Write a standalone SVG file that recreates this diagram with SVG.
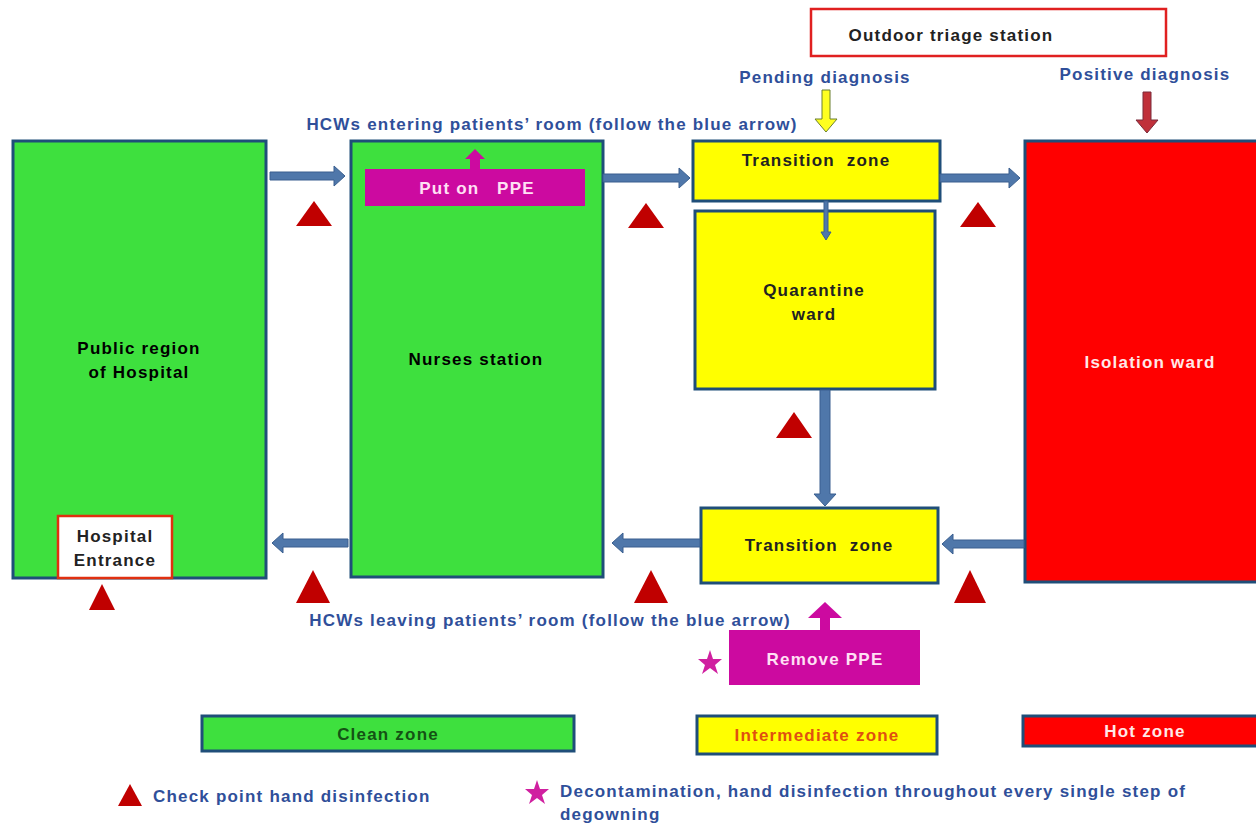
<svg xmlns="http://www.w3.org/2000/svg" width="1256" height="824" viewBox="0 0 1256 824">
<style>
.t{font-family:"Liberation Sans",Arial,sans-serif;font-weight:bold;font-size:17px;letter-spacing:1.2px;text-anchor:middle;white-space:pre}
.blue{fill:#2f4f9a}
.green{fill:#3ee03e;stroke:#1f4e79;stroke-width:3}
.yel{fill:#ffff00;stroke:#1f4e79;stroke-width:3}
.red{fill:#ff0000;stroke:#1f4e79;stroke-width:3}
.arr{fill:#4f77aa;stroke:#3a5f8f;stroke-width:1}
.tri{fill:#c00000}
.mag{fill:#cc0aa0}
</style>
<rect width="1256" height="824" fill="#ffffff"/>
<g id="public-region">
<rect class="green" x="13" y="141" width="253" height="437"/>
<text class="t" x="139" y="354">Public region</text>
<text class="t" x="139" y="378">of Hospital</text>
</g>
<g id="hospital-entrance">
<rect x="58" y="516" width="114" height="62" fill="#ffffff" stroke="#e03010" stroke-width="2.5"/>
<text class="t" x="115" y="542" fill="#222">Hospital</text>
<text class="t" x="115" y="566" fill="#222">Entrance</text>
</g>
<g id="nurses-station">
<rect class="green" x="351" y="141" width="252" height="436"/>
<text class="t" x="476" y="365">Nurses station</text>
</g>
<g id="put-on-ppe">
<polygon class="mag" points="470,169 470,159 465,159 475,149 485,159 480,159 480,169"/>
<rect class="mag" x="365" y="169" width="220" height="37"/>
<text class="t" x="477" y="194" fill="#ffe0f4">Put on   PPE</text>
</g>
<g id="transition-top">
<rect class="yel" x="693" y="141" width="247" height="60"/>
<text class="t" x="816" y="166" fill="#222">Transition  zone</text>
</g>
<g id="quarantine">
<rect class="yel" x="695" y="211" width="240" height="178"/>
<text class="t" x="814" y="296" fill="#222">Quarantine</text>
<text class="t" x="814" y="320" fill="#222">ward</text>
</g>
<g id="transition-bottom">
<rect class="yel" x="701" y="508" width="237" height="75"/>
<text class="t" x="819" y="551" fill="#222">Transition  zone</text>
</g>
<g id="isolation-ward">
<rect class="red" x="1025" y="141" width="240" height="441"/>
<text class="t" x="1150" y="368" fill="#ffe8e8">Isolation ward</text>
</g>
<g id="outdoor-triage">
<rect x="811" y="9" width="355" height="47" fill="#ffffff" stroke="#e02020" stroke-width="2.5"/>
<text class="t" x="951" y="41" fill="#222">Outdoor triage station</text>
</g>
<g id="remove-ppe">
<polygon class="mag" points="820,630 820,618 808,618 825,602 842,618 830,618 830,630"/>
<rect class="mag" x="729" y="630" width="191" height="55"/>
<text class="t" x="825" y="665" fill="#ffe0f4">Remove PPE</text>
</g>
<g id="connectors">
<polygon class="arr" points="270,172 334,172 334,166 345,176 334,186 334,180 270,180"/>
<polygon class="arr" points="603,174 679,174 679,168 690,178 679,188 679,182 603,182"/>
<polygon class="arr" points="940,174 1009,174 1009,168 1020,178 1009,188 1009,182 940,182"/>
<polygon class="arr" points="824,201 828,201 828,232 831,232 826,240 821,232 824,232"/>
<polygon class="arr" points="820,390 830,390 830,494 836,494 825,506 814,494 820,494"/>
<polygon class="arr" points="1024,540 953,540 953,534 942,544 953,554 953,548 1024,548"/>
<polygon class="arr" points="700,539 623,539 623,533 612,543 623,553 623,547 700,547"/>
<polygon class="arr" points="348,539 283,539 283,533 272,543 283,553 283,547 348,547"/>
<polygon points="822,90 830,90 830,119 837,119 826,132 815,119 822,119" fill="#ffff20" stroke="#6b7f30" stroke-width="1"/>
<polygon points="1143,92 1151,92 1151,120 1158,120 1147,133 1136,120 1143,120" fill="#c0303a" stroke="#7a2a3a" stroke-width="1"/>
</g>
<g id="checkpoints">
<polygon class="tri" points="314,201 296,226 332,226"/>
<polygon class="tri" points="646,203 628,228 664,228"/>
<polygon class="tri" points="978,202 960,227 996,227"/>
<polygon class="tri" points="794,412 776,438 812,438"/>
<polygon class="tri" points="313,570 296,603 330,603"/>
<polygon class="tri" points="651,570 634,603 668,603"/>
<polygon class="tri" points="970,570 954,603 986,603"/>
<polygon class="tri" points="102,584 89,610 115,610"/>
</g>
<g id="labels">
<text class="t blue" x="552" y="130">HCWs entering patients’ room (follow the blue arrow)</text>
<text class="t blue" x="550" y="626">HCWs leaving patients’ room (follow the blue arrow)</text>
<text class="t blue" x="825" y="83">Pending diagnosis</text>
<text class="t blue" x="1145" y="80">Positive diagnosis</text>
</g>
<polygon fill="#d020a0" points="710,650 713,659 722,659 715,665 718,674 710,668 702,674 705,665 698,659 707,659"/>
<g id="legend">
<rect class="green" x="202" y="716" width="372" height="35"/>
<text class="t" x="388" y="740" fill="#145214">Clean zone</text>
<rect class="yel" x="697" y="716" width="240" height="38"/>
<text class="t" x="817" y="741" fill="#e05010">Intermediate zone</text>
<rect class="red" x="1023" y="716" width="240" height="30"/>
<text class="t" x="1145" y="737" fill="#ffe8e8">Hot zone</text>
<polygon class="tri" points="130,784 118,806 142,806"/>
<text class="t blue" x="153" y="802" style="text-anchor:start">Check point hand disinfection</text>
<polygon fill="#d020a0" points="537,780 540,789 549,789 542,795 545,804 537,798 529,804 532,795 525,789 534,789"/>
<text class="t blue" x="560" y="797" style="text-anchor:start">Decontamination, hand disinfection throughout every single step of</text>
<text class="t blue" x="560" y="820" style="text-anchor:start">degowning</text>
</g>
</svg>
